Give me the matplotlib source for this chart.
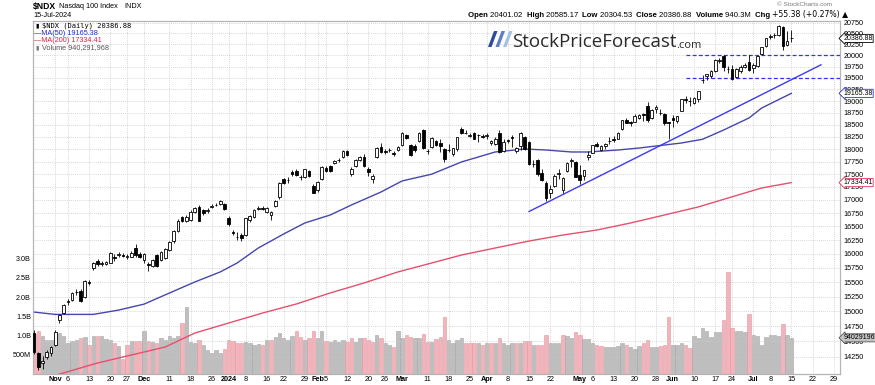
import matplotlib
matplotlib.use("Agg")
import matplotlib.pyplot as plt
import matplotlib.transforms as mtransforms
import numpy as np
import pandas as pd
from matplotlib.patches import Polygon
from matplotlib.ticker import NullLocator, NullFormatter

plt.rcParams["font.family"] = ["Liberation Sans", "DejaVu Sans"]

# ---- data ----
holidays = ["2023-11-23", "2023-12-25", "2024-01-01", "2024-01-15", "2024-02-19",
            "2024-03-29", "2024-05-27", "2024-06-19", "2024-07-04"]
first_day = "2023-10-25"
axis_end = "2024-07-29"
prev_close = 14840

opens = [14630, 14306, 14150, 14250, 14305, 14440, 14852, 14965, 15150, 15190,
         15320, 15345, 15236, 15500, 15740, 15870, 15815, 15820, 15842, 15950,
         15980, 15970, 15950, 15950, 16100, 16000, 15890, 15810, 15780, 15970,
         15890, 15930, 16070, 16240, 16420, 16680, 16610, 16620, 16770, 16860,
         16810, 16790, 16860, 16905, 16930, 16925, 16660, 16400, 16300, 16340,
         16340, 16620, 16680, 16835, 16840, 16780, 16720, 16890, 17050, 17400,
         17380, 17550, 17570, 17450, 17440, 17560, 17270, 17190, 17400, 17630,
         17660, 17730, 17780, 17850, 17955, 17500, 17660, 17780, 17850, 17610,
         17410, 17850, 18050, 17960, 17980, 17920, 17980, 18080, 18280, 18080,
         18060, 18160, 18400, 17970, 18050, 18160, 18120, 18000, 17990, 17900,
         18010, 18420, 18330, 18260, 18330, 18280, 18270, 18270, 18130, 18100,
         18330, 17960, 18180, 18250, 17960, 18060, 18240, 18140, 17700, 17780,
         17520, 17330, 17130, 17260, 17500, 17200, 17560, 17760, 17740, 17480,
         17470, 17850, 17930, 18100, 17990, 18060, 18170, 18210, 18210, 18410,
         18600, 18560, 18560, 18650, 18720, 18900, 18650, 18830, 18750, 18730,
         18550, 18650, 18580, 18790, 19050, 19000, 18950, 19050, 19450, 19550,
         19550, 19650, 19880, 19980, 19700, 19700, 19530, 19650, 19750, 19860,
         19730, 19770, 20030, 20220, 20410, 20460, 20470, 20660, 20240, 20401.02]
highs = [14680, 14330, 14260, 14360, 14430, 14680, 14960, 15130, 15210, 15330,
         15380, 15380, 15540, 15540, 15850, 15900, 15870, 15880, 16040, 15990,
         16040, 16010, 15990, 16050, 16170, 16030, 16010, 15850, 15900, 15990,
         16050, 16100, 16230, 16430, 16630, 16700, 16710, 16800, 16870, 16900,
         16830, 16840, 16920, 16950, 16990, 16950, 16700, 16440, 16390, 16380,
         16660, 16710, 16820, 16880, 16880, 16870, 16790, 16990, 17340, 17420,
         17440, 17580, 17600, 17490, 17610, 17580, 17300, 17360, 17670, 17660,
         17680, 17780, 17820, 17990, 17990, 17640, 17810, 17870, 17900, 17640,
         17500, 18040, 18130, 18000, 18020, 17960, 18070, 18340, 18300, 18100,
         18100, 18350, 18420, 18000, 18240, 18180, 18200, 18020, 18100, 18030,
         18250, 18460, 18390, 18330, 18360, 18300, 18300, 18320, 18190, 18240,
         18400, 18200, 18200, 18280, 18050, 18340, 18270, 18170, 17790, 17810,
         17600, 17360, 17280, 17500, 17600, 17450, 17750, 17830, 17770, 17680,
         17590, 17960, 18090, 18140, 18090, 18130, 18240, 18260, 18340, 18600,
         18650, 18580, 18720, 18720, 18750, 18970, 18830, 18910, 18830, 18750,
         18560, 18700, 18690, 19050, 19100, 19080, 19090, 19220, 19560, 19590,
         19680, 19930, 19950, 20010, 19760, 19780, 19720, 19790, 19830, 20020,
         19830, 19990, 20190, 20400, 20480, 20510, 20690, 20670, 20560, 20585.17]
lows = [14300, 14040, 14060, 14210, 14270, 14420, 14800, 14950, 15110, 15170,
        15280, 15160, 15220, 15440, 15720, 15780, 15790, 15800, 15830, 15870,
        15950, 15940, 15900, 15940, 15950, 15920, 15830, 15700, 15760, 15760,
        15870, 15910, 16050, 16200, 16400, 16590, 16590, 16600, 16760, 16600,
        16720, 16760, 16840, 16880, 16910, 16800, 16500, 16340, 16250, 16230,
        16320, 16590, 16660, 16800, 16800, 16750, 16620, 16870, 17020, 17300,
        17320, 17460, 17460, 17390, 17420, 17440, 17130, 17160, 17380, 17540,
        17550, 17700, 17750, 17830, 17870, 17470, 17640, 17760, 17640, 17460,
        17330, 17830, 17930, 17910, 17940, 17870, 17960, 18060, 18210, 17860,
        17940, 18140, 18000, 17900, 18030, 18070, 17950, 17740, 17950, 17860,
        17970, 18310, 18300, 18240, 18200, 18150, 18220, 18200, 18080, 18090,
        17930, 17940, 18120, 18040, 17920, 17990, 17980, 17690, 17640, 17460,
        17370, 16973, 17030, 17250, 17400, 17140, 17540, 17650, 17440, 17300,
        17380, 17790, 17920, 18040, 17970, 18000, 18100, 18140, 18200, 18400,
        18530, 18480, 18550, 18630, 18580, 18560, 18630, 18750, 18700, 18500,
        18200, 18460, 18540, 18780, 18950, 18900, 18930, 18970, 19380, 19450,
        19500, 19620, 19820, 19650, 19600, 19450, 19500, 19600, 19710, 19650,
        19600, 19750, 20010, 20180, 20380, 20400, 20450, 20120, 20220, 20304.53]
closes = [14330, 14092, 14180, 14330, 14410, 14657, 14935, 15105, 15165, 15305,
          15333, 15180, 15524, 15480, 15830, 15810, 15840, 15850, 16020, 15930,
          15995, 15965, 15960, 16010, 15980, 15950, 16000, 15800, 15890, 15780,
          16040, 16080, 16210, 16410, 16610, 16600, 16685, 16780, 16850, 16610,
          16760, 16800, 16890, 16905, 16970, 16825, 16540, 16370, 16310, 16280,
          16650, 16690, 16810, 16845, 16830, 16840, 16770, 16970, 17320, 17320,
          17390, 17500, 17480, 17440, 17595, 17460, 17140, 17350, 17650, 17570,
          17570, 17760, 17785, 17965, 17890, 17595, 17790, 17850, 17660, 17550,
          17460, 18020, 17950, 17950, 17990, 17910, 18050, 18320, 18230, 17880,
          17980, 18330, 18020, 17960, 18220, 18090, 18066, 17808, 17985, 18021,
          18240, 18339, 18330, 18288, 18211, 18281, 18255, 18296, 18167, 18199,
          17934, 18150, 18157, 18225, 18019, 18320, 18003, 17707, 17710, 17494,
          17394, 17037, 17211, 17471, 17527, 17430, 17718, 17783, 17441, 17381,
          17573, 17891, 18083, 18070, 18062, 18113, 18162, 18189, 18322, 18593,
          18546, 18546, 18675, 18710, 18705, 18596, 18808, 18870, 18743, 18537,
          18536, 18608, 18683, 19035, 19025, 19000, 19074, 19210, 19466, 19576,
          19659, 19903, 19908, 19752, 19700, 19473, 19701, 19751, 19789, 19683,
          19797, 19989, 20187, 20392, 20440, 20460, 20676, 20212, 20332, 20386.88]
# volume in billions
volumes = [1.05, 1.12, 0.99, 0.88, 0.88, 1.00, 1.06, 0.99, 0.81, 0.87,
           0.88, 0.93, 0.97, 0.75, 0.99, 0.99, 0.99, 0.91, 0.88, 0.81,
           0.73, 0.38, 0.75, 0.86, 0.86, 0.86, 1.12, 0.86, 0.84, 0.81,
           0.93, 0.88, 0.99, 0.93, 0.99, 1.33, 1.73, 0.84, 0.80, 0.88,
           0.75, 0.62, 0.54, 0.62, 0.55, 0.64, 0.88, 0.86, 0.81, 0.80,
           0.82, 0.80, 0.75, 0.77, 0.75, 0.88, 0.88, 0.97, 1.06, 0.93,
           0.88, 0.99, 1.12, 0.97, 0.88, 0.93, 1.12, 0.93, 1.12, 0.86,
           0.84, 0.88, 0.84, 0.88, 0.84, 0.93, 0.84, 0.93, 0.93, 0.88,
           0.84, 1.01, 0.93, 0.80, 0.75, 0.69, 1.13, 0.93, 1.01, 0.96,
           0.94, 0.94, 1.04, 0.84, 0.84, 0.90, 0.97, 1.49, 0.88, 0.80,
           0.88, 0.94, 0.80, 0.80, 0.80, 0.80, 0.75, 0.80, 0.80, 0.81,
           0.94, 0.80, 0.75, 0.80, 0.80, 0.80, 0.86, 0.86, 0.75, 0.75,
           0.75, 1.01, 0.80, 0.81, 0.81, 1.01, 0.99, 0.94, 1.10, 1.01,
           0.91, 0.91, 0.80, 0.75, 0.73, 0.71, 0.69, 0.71, 0.73, 0.81,
           0.75, 0.69, 0.65, 0.73, 0.80, 0.88, 0.71, 0.71, 0.73, 0.75,
           1.49, 0.75, 0.75, 0.81, 0.75, 0.67, 0.99, 0.94, 1.20, 1.11,
           0.97, 1.08, 1.08, 1.39, 2.66, 1.20, 1.11, 1.11, 1.08, 1.55,
           1.01, 1.00, 0.75, 0.97, 1.01, 1.02, 1.00, 1.29, 1.01, 0.94]

ma50_dates = ["2023-10-25", "2023-11-01", "2023-11-14", "2023-11-22", "2023-12-01",
              "2023-12-11", "2023-12-19", "2023-12-28", "2024-01-04", "2024-01-11",
              "2024-01-22", "2024-01-29", "2024-02-06", "2024-02-13", "2024-02-23",
              "2024-03-01", "2024-03-12", "2024-03-21", "2024-04-03", "2024-04-12",
              "2024-04-19", "2024-04-29", "2024-05-03", "2024-05-14", "2024-05-21",
              "2024-05-30", "2024-06-05", "2024-06-12", "2024-06-20", "2024-06-28",
              "2024-07-03", "2024-07-15"]
ma50_vals = [14985, 14946, 14946, 15019, 15120, 15310, 15501, 15677, 15836, 16105,
             16361, 16565, 16714, 16903, 17152, 17367, 17500, 17741, 17942, 18002,
             17982, 17942, 17942, 17982, 18022, 18083, 18124, 18200, 18391, 18642,
             18852, 19165.38]
ma200_dates = ["2023-10-25", "2023-11-02", "2023-11-15", "2023-11-28", "2023-12-08",
               "2023-12-19", "2024-01-02", "2024-01-12", "2024-01-25", "2024-02-06",
               "2024-02-16", "2024-02-29", "2024-03-12", "2024-03-21", "2024-04-03",
               "2024-04-15", "2024-04-25", "2024-05-07", "2024-05-17", "2024-05-30",
               "2024-06-11", "2024-06-21", "2024-07-03", "2024-07-15"]
ma200_vals = [13850, 13975, 14151, 14279, 14408, 14636, 14802, 14969, 15122, 15311,
              15484, 15677, 15836, 15978, 16105, 16232, 16342, 16434, 16565, 16714,
              16866, 17036, 17230, 17334.41]
trend_dates = ["2024-04-15", "2024-07-24"]
trend_vals = [16780, 19790]
support_levels = [20000, 19500]
support_start = "2024-06-06"

tick_dates = ["2023-11-01", "2023-11-06", "2023-11-13", "2023-11-20", "2023-11-27",
              "2023-12-01", "2023-12-11", "2023-12-18", "2023-12-26", "2024-01-02",
              "2024-01-08", "2024-01-16", "2024-01-22", "2024-01-29", "2024-02-01",
              "2024-02-05", "2024-02-12", "2024-02-20", "2024-02-26", "2024-03-01",
              "2024-03-11", "2024-03-18", "2024-03-25", "2024-04-01", "2024-04-08",
              "2024-04-15", "2024-04-22", "2024-05-01", "2024-05-06", "2024-05-13",
              "2024-05-20", "2024-05-28", "2024-06-03", "2024-06-10", "2024-06-17",
              "2024-06-24", "2024-07-01", "2024-07-08", "2024-07-15", "2024-07-22",
              "2024-07-29"]
tick_labels = ["Nov", "6", "13", "20", "27", "Dec", "11", "18", "26", "2024",
               "8", "16", "22", "29", "Feb", "5", "12", "20", "26", "Mar",
               "11", "18", "25", "Apr", "8", "15", "22", "May", "6", "13",
               "20", "28", "Jun", "10", "17", "24", "Jul", "8", "15", "22", "29"]
price_ticks = list(range(14250, 20751, 250))
vol_ticks = [0.5, 1.0, 1.5, 2.0, 2.5, 3.0]
vol_tick_labels = ["500M", "1.0B", "1.5B", "2.0B", "2.5B", "3.0B"]

# ---- layout ----
W, H = 875, 385
days = pd.bdate_range(first_day, axis_end, freq="C", holidays=holidays)
pos = {d.strftime("%Y-%m-%d"): i for i, d in enumerate(days)}
x = np.arange(len(closes))


def px(xp, yp):
    return xp / W, 1 - yp / H


fig = plt.figure(figsize=(W / 100, H / 100), dpi=100)
L, R, B, T = 33 / W, 840 / W, 1 - 374 / H, 1 - 21 / H
axv = fig.add_axes([L, B, R - L, T - B])
ax = axv.twinx()

# volume
prev = [prev_close] + closes[:-1]
vcol = ["#f3b3bb" if c < p else "#bebebe" for c, p in zip(closes, prev)]
vedge = ["#e597a1" if c < p else "#a6a6a6" for c, p in zip(closes, prev)]
axv.bar(x, volumes, width=0.8, color=vcol, edgecolor=vedge, linewidth=0.4, zorder=2)
axv.set_ylim(0, 9.17)
axv.set_yticks(vol_ticks)
axv.set_yticklabels(vol_tick_labels)
axv.set_axisbelow(True)
axv.grid(True, axis="x", ls=(0, (1, 1.5)), color="#c8c8c8", lw=0.6)

# candles
o = np.array(opens)
c = np.array(closes)
up = c >= o
ax.vlines(x, lows, highs, color="black", lw=0.6, zorder=3)
ax.bar(x[up], (c - o)[up], bottom=o[up], width=0.64, color="white",
       edgecolor="black", linewidth=0.6, zorder=4)
ax.bar(x[~up], (o - c)[~up], bottom=c[~up], width=0.64, color="black",
       edgecolor="black", linewidth=0.6, zorder=4)

# moving averages and drawn lines
ax.plot([pos[d] for d in ma50_dates], ma50_vals, color="#4646b0", lw=1.0, zorder=2.5)
ax.plot([pos[d] for d in ma200_dates], ma200_vals, color="#e6506e", lw=1.0, zorder=2.5)
ax.plot([pos[d] for d in trend_dates], trend_vals, color="#3b3bf0", lw=1.0, zorder=2.6)
for lvl in support_levels:
    ax.plot([pos[support_start], 191], [lvl, lvl], color="#3030ff", lw=0.9,
            ls=(0, (3, 2)), zorder=2.6)

ax.set_yscale("log")
ax.set_ylim(13977, 20790)
ax.set_yticks(price_ticks)
ax.set_yticklabels([str(t) for t in price_ticks])
ax.yaxis.set_minor_locator(NullLocator())
ax.yaxis.set_minor_formatter(NullFormatter())
ax.grid(True, axis="y", ls=(0, (1, 1.5)), color="#c8c8c8", lw=0.6)
ax.set_xlim(-0.25, 190.5)

axv.set_xticks([pos[d] for d in tick_dates])
axv.set_xticklabels(tick_labels)
for lab in axv.get_xticklabels():
    if not lab.get_text().isdigit() or lab.get_text() == "2024":
        lab.set_fontweight("bold")

for a in (ax, axv):
    for s in a.spines.values():
        s.set_color("#b4b4b4")
        s.set_linewidth(0.8)
ax.tick_params(axis="y", length=0, pad=2.5, labelsize=5.2)
axv.tick_params(axis="y", length=0, pad=1.5, labelsize=5.2)
axv.tick_params(axis="x", length=0, pad=1.5, labelsize=5.2)

# last value tags (drawn on the top axes so they cover the tick labels)
tags = [(20386.88, "20386.88", "black"), (19165.38, "19165.38", "#3030b0"),
        (17334.41, "17334.41", "#e0305a")]
for val, txt, col in tags:
    ax.text(1.004, val, txt, transform=ax.get_yaxis_transform(), fontsize=5,
            ha="left", va="center", zorder=10, clip_on=False,
            bbox=dict(boxstyle="larrow,pad=0.08", fc="white", ec=col, lw=0.6))
vol_tr = mtransforms.blended_transform_factory(ax.transAxes, axv.transData)
ax.text(1.004, volumes[-1], "940291968", transform=vol_tr,
        fontsize=5, ha="left", va="center", zorder=10, clip_on=False,
        bbox=dict(boxstyle="larrow,pad=0.08", fc="#c4c4c4", ec="#555555", lw=0.6))

# header
fig.text(*px(33, 6.5), "$NDX", fontsize=6.2, fontweight="bold", va="center")
fig.text(*px(59, 7), "Nasdaq 100 Index", fontsize=5.2, va="center")
fig.text(*px(124, 7), "INDX", fontsize=5.2, va="center")
fig.text(*px(33, 15.5), "15-Jul-2024", fontsize=5.2, va="center")
fig.text(*px(832, 5), "\u00a9 StockCharts.com", fontsize=4.6, color="#777777",
         ha="right", va="center")

parts = [("Open ", "bold"), ("20401.02  ", "normal"), ("High ", "bold"),
         ("20585.17  ", "normal"), ("Low ", "bold"), ("20304.53  ", "normal"),
         ("Close ", "bold"), ("20386.88  ", "normal"), ("Volume ", "bold"),
         ("940.3M  ", "normal"), ("Chg ", "bold"), ("+55.38 (+0.27%) \u25b2", "normal")]
anchor = None
for s, w in parts:
    fam = ["DejaVu Sans"] if "\u25b2" in s else ["Liberation Sans", "DejaVu Sans"]
    if anchor is None:
        anchor = ax.annotate(s, xy=px(468, 19), xycoords="figure fraction",
                             fontsize=5.6, fontweight=w, va="bottom", ha="left",
                             annotation_clip=False)
    else:
        anchor = ax.annotate(s, xy=(1, 0), xycoords=anchor, fontsize=5.6,
                             fontweight=w, va="bottom", ha="left",
                             annotation_clip=False, family=fam)

# legend inside plot
fig.text(*px(35, 25.5), "\u25ae", fontsize=4.5, va="center", family="DejaVu Sans")
fig.text(*px(42, 25.5), "$NDX (Daily) 20386.88", fontsize=5, va="center",
         family="DejaVu Sans Mono")
fig.text(*px(34, 33.5), "\u2014MA(50) 19165.38", fontsize=5.2, va="center", color="#2828c8")
fig.text(*px(34, 40.5), "\u2014MA(200) 17334.41", fontsize=5.2, va="center", color="#e0204a")
fig.text(*px(35, 48), "\u25ae", fontsize=4.5, va="center", color="#777777",
         family="DejaVu Sans")
fig.text(*px(42, 48), "Volume 940,291,968", fontsize=5.2, va="center", color="#555555")

# watermark logo
slash_cols = ["#2b4c9b", "#5c80c6", "#a8c0e2"]
for k, col in enumerate(slash_cols):
    x0 = 488 + k * 7.5
    pts = [px(x0, 47), px(x0 + 3.5, 47), px(x0 + 9.5, 31), px(x0 + 6, 31)]
    fig.patches.append(Polygon(pts, closed=True, transform=fig.transFigure,
                               facecolor=col, edgecolor="none"))
logo = fig.text(*px(512, 47), "StockPriceForecast", fontsize=13.5, color="#2a2a2a",
                family="Open Sans", va="baseline")
ax.annotate(".com", xy=(1, 0), xycoords=logo, fontsize=8, color="#2a2a2a",
            family="Open Sans", va="bottom", ha="left", annotation_clip=False)

fig.savefig("out.png", dpi=100)
